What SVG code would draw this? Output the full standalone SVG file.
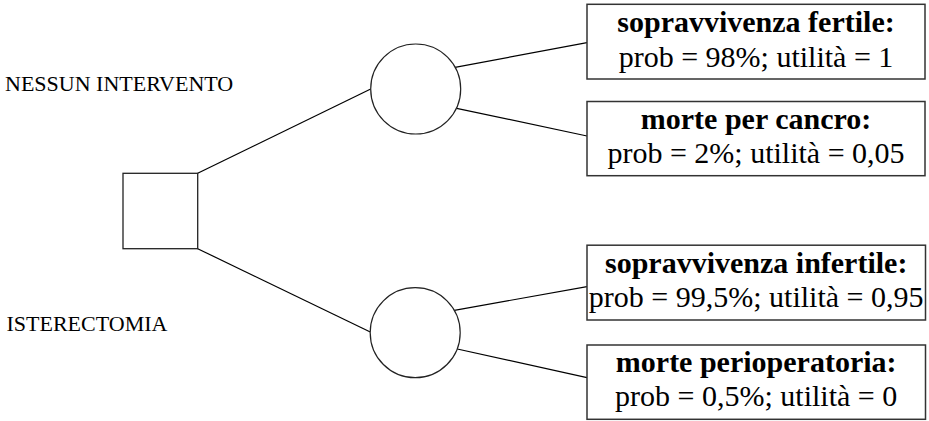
<svg xmlns="http://www.w3.org/2000/svg" width="929" height="421" viewBox="0 0 929 421">
  <style>
    .edge { stroke: #000; stroke-width: 1.2; fill: none; }
    .decision { fill: #fff; stroke: #222; stroke-width: 1.3; }
    .chance { fill: #fff; stroke: #222; stroke-width: 1.2; }
    .outcome { fill: #fff; stroke: #333; stroke-width: 1.5; }
    text { font-family: 'Liberation Serif', 'DejaVu Serif', 'Times New Roman', serif; fill: #000; }
    .label { font-size: 22px; }
    .title { font-size: 30px; font-weight: bold; text-anchor: middle; }
    .detail { font-size: 30px; text-anchor: middle; }
  </style>
  <rect width="929" height="421" fill="#fff"/>

  <!-- branches of the decision tree -->
  <g id="connectors">
    <line class="edge" x1="197.7" y1="173.3" x2="370.7" y2="89"/>
    <line class="edge" x1="197.7" y1="248.7" x2="370.3" y2="332"/>
    <line class="edge" x1="455" y1="67.3" x2="587" y2="42.7"/>
    <line class="edge" x1="456.7" y1="108.3" x2="587" y2="136"/>
    <line class="edge" x1="454.3" y1="310.3" x2="587" y2="286.7"/>
    <line class="edge" x1="457.3" y1="349" x2="587" y2="377.7"/>
  </g>

  <!-- decision node -->
  <g id="decision">
    <rect class="decision" x="123" y="173.3" width="74.7" height="75.4"/>
  </g>

  <!-- option labels -->
  <g id="label-nessun">
    <text class="label" x="5" y="90.7">NESSUN INTERVENTO</text>
  </g>
  <g id="label-isterectomia">
    <text class="label" x="6.5" y="330.7">ISTERECTOMIA</text>
  </g>

  <!-- chance nodes -->
  <g id="chance-nessun">
    <circle class="chance" cx="415.7" cy="89" r="45"/>
  </g>
  <g id="chance-isterectomia">
    <circle class="chance" cx="415.2" cy="332.7" r="45"/>
  </g>

  <!-- outcomes -->
  <g id="outcome-fertile">
    <rect class="outcome" x="587" y="4.3" width="338" height="74.7"/>
    <text class="title" x="756" y="32">sopravvivenza fertile:</text>
    <text class="detail" x="756" y="66.5">prob = 98%; utilità = 1</text>
  </g>
  <g id="outcome-cancro">
    <rect class="outcome" x="587" y="101.5" width="338" height="74.2"/>
    <text class="title" x="756" y="128.5">morte per cancro:</text>
    <text class="detail" x="756" y="163">prob = 2%; utilità = 0,05</text>
  </g>
  <g id="outcome-infertile">
    <rect class="outcome" x="587" y="245.2" width="338.5" height="74.8"/>
    <text class="title" x="756.2" y="272.5">sopravvivenza infertile:</text>
    <text class="detail" x="756.2" y="307">prob = 99,5%; utilità = 0,95</text>
  </g>
  <g id="outcome-perioperatoria">
    <rect class="outcome" x="587" y="345" width="338.5" height="74.3"/>
    <text class="title" x="756.2" y="371.5">morte perioperatoria:</text>
    <text class="detail" x="756.2" y="406">prob = 0,5%; utilità = 0</text>
  </g>
</svg>
